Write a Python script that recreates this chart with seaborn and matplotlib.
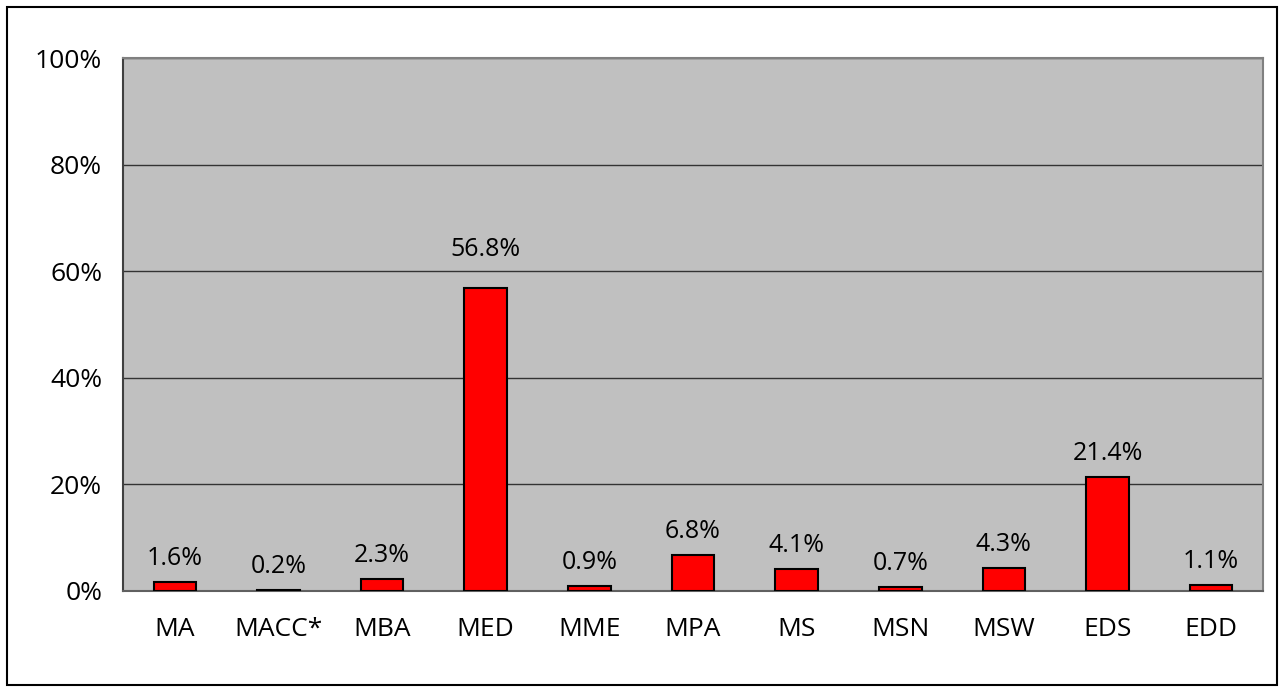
import numpy as np
import pandas as pd
import matplotlib
matplotlib.use("Agg")
import matplotlib.pyplot as plt
import seaborn as sns
from matplotlib.patches import Rectangle

programs = ['MA', 'MACC*', 'MBA', 'MED', 'MME', 'MPA', 'MS', 'MSN', 'MSW', 'EDS', 'EDD']
shares = [1.6, 0.2, 2.3, 56.8, 0.9, 6.8, 4.1, 0.7, 4.3, 21.4, 1.1]
yticks = [0, 20, 40, 60, 80, 100]

df = pd.DataFrame({'program': programs, 'share': shares})

sns.set_style("white")
plt.rcParams['font.family'] = ['Open Sans', 'DejaVu Sans']
plt.rcParams['text.color'] = 'black'
plt.rcParams['xtick.color'] = 'black'
plt.rcParams['ytick.color'] = 'black'

fig = plt.figure(figsize=(12.82, 6.89), dpi=100)
ax = fig.add_axes([123 / 1282, 1 - 591 / 689, (1263 - 123) / 1282, (591 - 58) / 689])
ax.set_facecolor('#C0C0C0')

sns.barplot(data=df, x='program', y='share', color='red', saturation=1,
            edgecolor='black', linewidth=1.5, width=0.41, ax=ax, zorder=3)

ax.set_xlim(-0.5, len(programs) - 0.5)
ax.set_ylim(0, 100)
ax.set_yticks(yticks)
ax.set_yticklabels([f'{t}%' for t in yticks], fontsize=19)
for t in yticks[1:]:
    ax.axhline(t, color='#333333', linewidth=1.0, zorder=1)

ax.set_xticks(range(len(programs)))
ax.set_xticklabels(programs, fontsize=19)
ax.tick_params(axis='x', which='major', length=0, pad=19)
ax.set_xticks(np.arange(-0.5, len(programs)), minor=True)
ax.tick_params(axis='x', which='minor', length=8, width=1, color='black', direction='out')
ax.tick_params(axis='y', length=7, width=1, color='black', direction='out', pad=8)
ax.set_xlabel('')
ax.set_ylabel('')

# the MED label sits a bit higher, clear of the 60% gridline
for i, v in enumerate(shares):
    dy = 19 if programs[i] == 'MED' else 8
    ax.annotate(f'{v}%', (i, v), xytext=(0, dy), textcoords='offset points',
                ha='center', va='bottom', fontsize=18)

for side in ['top', 'right']:
    ax.spines[side].set_color('#808080')
    ax.spines[side].set_linewidth(1.5)
ax.spines['left'].set_color('#404040')
ax.spines['left'].set_linewidth(1.5)
ax.spines['bottom'].set_color('#606060')
ax.spines['bottom'].set_linewidth(1.5)

fig.patches.append(Rectangle((7 / 1282, 4 / 689), 1270 / 1282, 678 / 689,
                             transform=fig.transFigure, fill=False,
                             edgecolor='black', linewidth=1.5))

fig.savefig('out.png', dpi=100)
